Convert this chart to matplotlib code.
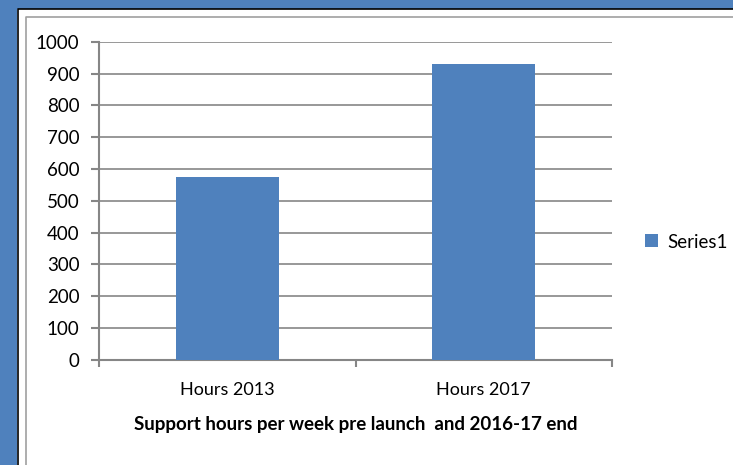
import matplotlib.pyplot as plt
from matplotlib.lines import Line2D
from matplotlib.patches import Patch

categories = ['Hours 2013', 'Hours 2017']
hours = [575, 930]
series_name = 'Series1'
x_title = 'Support hours per week pre launch  and 2016-17 end'

blue = '#4F81BD'
grey = '#868686'

plt.rcParams['font.family'] = ['Lato', 'DejaVu Sans']

fig = plt.figure(figsize=(7.33, 4.65), dpi=100)
fig.patch.set_facecolor('white')
W, H = 733, 465

# frame: blue band top/left, then a black and a grey inner line
def fig_line(xs, ys, **kw):
    fig.lines.append(Line2D([v / W for v in xs], [1 - v / H for v in ys],
                            transform=fig.transFigure, **kw))

fig_line([0, W, W, 0, 0], [0, 0, 9, 9, 0], color=blue, linewidth=0)
fig.patches.append(plt.Rectangle((0, 1 - 9 / H), 1, 9 / H, transform=fig.transFigure,
                                 facecolor=blue, edgecolor='none'))
fig.patches.append(plt.Rectangle((0, 0), 17 / W, 1, transform=fig.transFigure,
                                 facecolor=blue, edgecolor='none'))
fig_line([17.5, 17.5, W], [H, 9.5, 9.5], color='black', linewidth=1.2)
fig_line([25.5, 25.5, W], [H, 17.5, 17.5], color='#A0A0A0', linewidth=1.2)

ax = fig.add_axes([99 / W, 105.3 / H, 513 / W, 318 / H])

x = range(len(categories))
ax.bar(x, hours, width=0.4, color=blue, label=series_name, zorder=3)

ax.set_xlim(-0.5, len(categories) - 0.5)
ax.set_ylim(0, 1000)
ax.set_yticks(range(0, 1001, 100))
ax.yaxis.grid(True, color=grey, linewidth=1.2)
ax.set_axisbelow(True)

for s in ['top', 'right']:
    ax.spines[s].set_visible(False)
for s in ['left', 'bottom']:
    ax.spines[s].set_color(grey)
    ax.spines[s].set_linewidth(1.5)

ax.set_xticks(list(x))
ax.set_xticklabels(categories)
ax.set_xticks([i - 0.5 for i in range(len(categories) + 1)], minor=True)
ax.tick_params(axis='x', which='major', length=0, pad=16, labelsize=13)
ax.tick_params(axis='x', which='minor', length=5, width=1.5, color=grey)
ax.tick_params(axis='y', length=6, width=1.5, color=grey, pad=8, labelsize=13.5)

ax.set_xlabel(x_title, fontsize=13.5, fontweight='bold', labelpad=13)

handle = Patch(facecolor=blue, edgecolor='none')
fig.legend([handle], [series_name], loc='center left',
           bbox_to_anchor=(628 / W, 1 - 242 / H), frameon=False,
           fontsize=13.5, handlelength=0.7, handleheight=0.7,
           handletextpad=0.5)

fig.savefig('out.png', dpi=100)
